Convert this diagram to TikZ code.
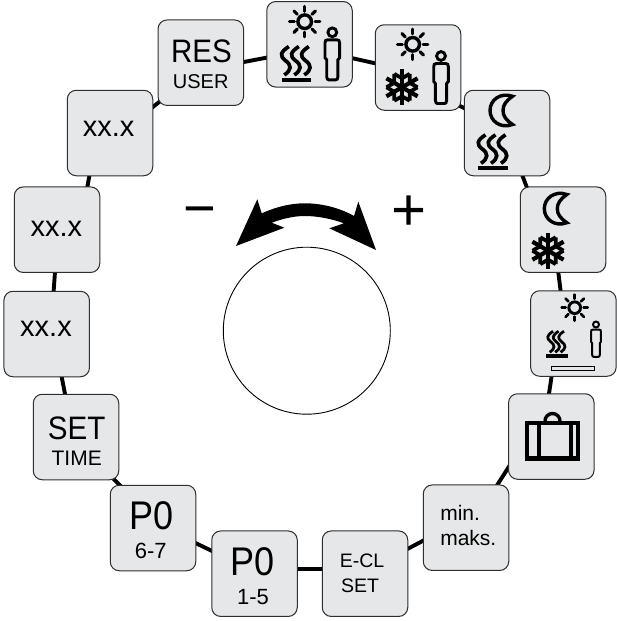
\documentclass[tikz,border=0pt]{standalone}
\usepackage{graphicx}
\usepackage{fontspec}
\setmainfont{Liberation Sans}
\pgfdeclarelayer{bg}
\pgfsetlayers{bg,main}
\definecolor{boxgrey}{HTML}{E6E7E8}
\tikzset{
  tile/.style={draw=black!82,fill=boxgrey,line width=1pt,rounded corners=9pt,minimum size=85.5pt,inner sep=0pt,outer sep=0pt},
  ring/.style={line width=3.9pt,black},
  txt/.style={anchor=base,inner sep=0pt,outer sep=0pt,text=black},
}
\newcommand{\fs}[1]{\fontsize{#1}{#1}\selectfont}
\newcommand{\conn}[6]{\draw[ring] ([shift={(#2,#3)}]#1.center) -- ([shift={(#5,#6)}]#4.center);}
\newcommand{\sunicon}[3]{\begin{scope}[shift={(#1,#2)},scale=#3]
  \draw[line width=#3*3.4pt] (0,0) circle (6.8);
  \foreach \a in {0,45,...,315} \draw[line width=#3*3.1pt,line cap=round] (\a:10.4) -- (\a:15.2);
\end{scope}}
\newcommand{\heaticon}[3]{\begin{scope}[shift={(#1,#2)},scale=#3]
  \fill (-14.7,-2.1) rectangle (14.7,2.1);
  \foreach \d in {-10,0,10}
    \draw[line width=#3*3.7pt,xshift=\d pt*#3] (2.5,-33.5) .. controls (-6.5,-27.5) and (-6.5,-24) .. (-1,-19.5) .. controls (5.5,-15) and (5.5,-10) .. (-2,-5);
\end{scope}}
\newcommand{\personicon}[3]{\begin{scope}[shift={(#1,#2)},scale=#3]
  \draw[line width=#3*2.9pt] (0,0) circle (4.4);
  \draw[line width=#3*2.9pt] (-4.5,7.5) -- (4.5,7.5) .. controls (6.5,7.5) and (7.3,8.5) .. (7.3,10.5) -- (7.3,25.5) -- (5.6,27.5) -- (5.6,44.5) .. controls (5.6,46.8) and (4.5,47.5) .. (3.5,47.5) -- (-3.5,47.5) .. controls (-4.5,47.5) and (-5.6,46.8) .. (-5.6,44.5) -- (-5.6,27.5) -- (-7.3,25.5) -- (-7.3,10.5) .. controls (-7.3,8.5) and (-6.5,7.5) .. (-4.5,7.5) -- cycle;
\end{scope}}
\newcommand{\flakeicon}[2]{\begin{scope}[shift={(#1,#2)}]
  \foreach \a in {90,150,...,390} {
    \draw[line width=4.2pt] (0,0) -- (\a:18);
    \draw[line width=3.8pt] (\a+30:15.5) -- (\a:9) -- (\a-30:15.5);
  }
\end{scope}}
\newcommand{\moonicon}[2]{\begin{scope}[shift={(#1,#2)}]
  \draw[line width=3.4pt,line join=miter,miter limit=3] (8.5,-14.2) .. controls (-3.5,-18.5) and (-14,-10.5) .. (-14,0) .. controls (-14,10.5) and (-3.5,18.5) .. (8.5,14) .. controls (2,9.5) and (-1,5.5) .. (-1,0) .. controls (-1,-5.5) and (2,-9.5) .. (8.5,-14.2) -- cycle;
\end{scope}}
\begin{document}
\begin{tikzpicture}[x=1pt,y=-1pt]
\useasboundingbox (0,0) rectangle (616,621);
% tiles
\node[tile] (res) at (200.8,62.7) {};
\node[tile] (top) at (309.5,44.3) {};
\node[tile] (b2)  at (418,67.5) {};
\node[tile] (b3)  at (507,133) {};
\node[tile] (b4)  at (563,229.7) {};
\node[tile] (b5)  at (573.4,333.5) {};
\node[tile] (bag) at (551.3,436.5) {};
\node[tile] (mm)  at (466,527.7) {};
\node[tile] (ecl) at (365,573.7) {};
\node[tile] (p15) at (254.5,573.7) {};
\node[tile] (p67) at (153,528) {};
\node[tile] (set) at (76,437) {};
\node[tile] (x1)  at (46.7,334) {};
\node[tile] (x2)  at (57,229.7) {};
\node[tile] (x3)  at (110,133) {};
% connectors
\begin{pgfonlayer}{bg}
\conn{res}{42}{-.5}{top}{-41}{13}
\conn{top}{41}{13.5}{b2}{-41}{-3.8}
\conn{b2}{39}{37}{b3}{-41}{-24}
\conn{b3}{15}{41.5}{b4}{-35.7}{-41}
\conn{b4}{-4.9}{41}{b5}{-12.6}{-41}
\conn{b5}{-21.5}{41}{bag}{-2.6}{-41}
\conn{bag}{-41}{28}{mm}{29.5}{-40}
\conn{mm}{-41}{12}{ecl}{41}{-24}
\conn{ecl}{-41}{-5}{p15}{41}{-5}
\conn{p15}{-41}{-22}{p67}{41}{14.3}
\conn{p67}{-31.5}{-41}{set}{35.8}{40}
\conn{set}{-10.6}{-41}{x1}{14.6}{41}
\conn{x1}{6.8}{-41}{x2}{-1.9}{41}
\conn{x2}{30}{-41}{x3}{-20.3}{41}
\conn{x3}{41}{-24.5}{res}{-40}{38}
\end{pgfonlayer}
% texts
\node[txt] (t1) at (201.5,62.7) {\fs{32.5}\scalebox{.91}[1]{RES}};
\node[txt] (t2) at (200.7,88.3) {\fs{20}USER};
\node[txt] (t3) at (108.7,136.7) {\fs{29}xx.x};
\node[txt] (t4) at (56.3,236) {\fs{29}xx.x};
\node[txt] (t5) at (46,336.7) {\fs{29}xx.x};
\node[txt] (t6) at (76.7,439) {\fs{32.5}\scalebox{.91}[1]{SET}};
\node[txt] (t7) at (76.7,465) {\fs{21}TIME};
\node[txt] (t8) at (152,529) {\fs{40}\scalebox{.9}[1]{P0}};
\node[txt] (t9) at (150.7,558.3) {\fs{22}6-7};
\node[txt] (t10) at (253,575) {\fs{40}\scalebox{.9}[1]{P0}};
\node[txt] (t11) at (253,604) {\fs{22}1-5};
\node[txt] (t12) at (362,567.3) {\fs{19.5}E-CL};
\node[txt] (t13) at (360,592.7) {\fs{19.5}SET};
\node[txt,anchor=base west] (t14) at (440.3,520.7) {\fs{21}min.};
\node[txt,anchor=base west] (t15) at (440.3,545) {\fs{21}maks.};
\node[txt] (minus) at (199.5,227) {\fs{56}−};
\node[txt] (plus) at (409,230) {\fs{60}+};
% icons
\sunicon{304.7}{21.7}{1}
\heaticon{296.3}{80}{1}
\personicon{332.3}{32.3}{1}
\sunicon{412.7}{44.3}{1}
\flakeicon{402}{87.3}
\personicon{441}{56}{1}
\moonicon{504}{110.5}
\heaticon{493}{168.3}{1}
\moonicon{558.3}{208.7}
\flakeicon{548}{250.7}
\sunicon{574.7}{307.7}{.86}
\personicon{596}{324.5}{.68}
\heaticon{556.7}{356}{.74}
\draw[line width=.8pt,fill=boxgrey] (551.7,366.3) rectangle (594,370);
% briefcase
\draw[line width=3.4pt] (545,421) arc[start angle=180,end angle=360,radius=7.5];
\draw[line width=4.4pt] (527.2,423.2) rectangle (577.8,458.5);
\draw[line width=4.4pt] (538.7,423) -- (538.7,459) (571,423) -- (571,459);
% dial
\node[draw=black,line width=.9pt,circle,minimum size=167pt,inner sep=0pt,outer sep=0pt,fill=white] (dial) at (306.8,330.7) {};
\fill (236,246) -- (257.3,199.3) -- (261.7,213.3) .. controls (276,207) and (290,203.3) .. (305,203.3) .. controls (322,203.3) and (340,208) .. (354,216) -- (358.3,201.7) -- (376,250) -- (329.3,228.3) -- (344,223.3) .. controls (332,219) and (318,216) .. (305,216) .. controls (293,216) and (282,219) .. (271.7,222.7) -- (284.3,227.7) -- cycle;
\end{tikzpicture}
\end{document}
